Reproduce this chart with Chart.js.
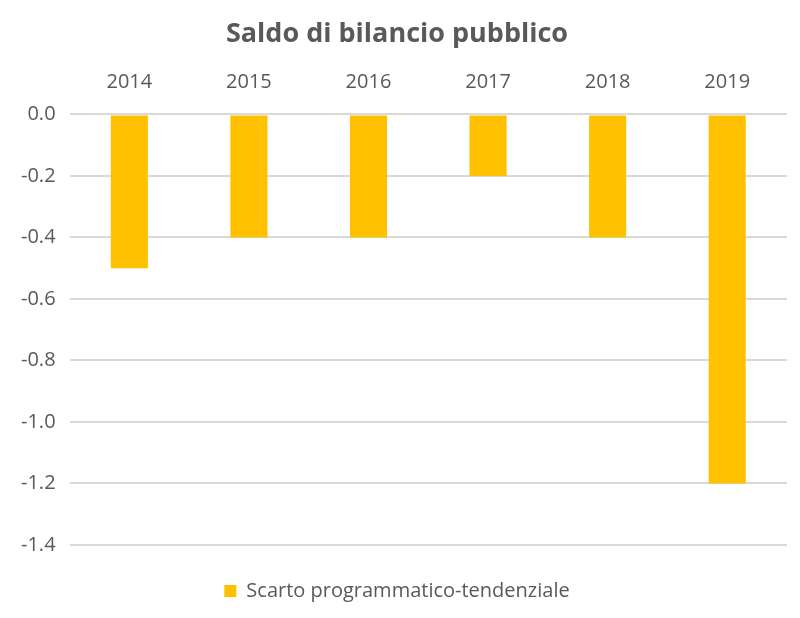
<!DOCTYPE html>
<html>
<head>
<meta charset="utf-8">
<script src="https://cdn.jsdelivr.net/npm/chart.js@4"></script>
<style>
  body { margin: 0; background: #fff; }
</style>
</head>
<body>
<canvas id="saldo" width="800" height="618"></canvas>
<script>
  const years = ["2014", "2015", "2016", "2017", "2018", "2019"];
  const scarto = [-0.5, -0.4, -0.4, -0.2, -0.4, -1.2];
  const seriesName = "Scarto programmatico-tendenziale";

  const grey = "#595959";
  const fontFamily = "'Open Sans', sans-serif";

  const ctx = document.getElementById("saldo");

  new Chart(ctx, {
    type: "bar",
    data: {
      labels: years,
      datasets: [{
        label: seriesName,
        data: scarto,
        backgroundColor: "#FFC000",
        borderWidth: 0,
        categoryPercentage: 1,
        barPercentage: 0.31
      }]
    },
    options: {
      responsive: false,
      animation: false,
      layout: {
        padding: { left: 7, right: 13, top: 6, bottom: 7 }
      },
      plugins: {
        title: {
          display: true,
          text: "Saldo di bilancio pubblico",
          color: grey,
          font: { family: fontFamily, size: 27, weight: "bold" },
          padding: { top: 12, bottom: 8 }
        },
        legend: {
          position: "bottom",
          labels: {
            color: grey,
            font: { family: fontFamily, size: 20 },
            boxWidth: 12,
            boxHeight: 12,
            padding: 26
          }
        },
        tooltip: { enabled: false }
      },
      scales: {
        x: {
          position: "top",
          grid: { display: false },
          border: { display: false },
          ticks: {
            color: grey,
            font: { family: fontFamily, size: 20 },
            padding: 12
          }
        },
        // empty bottom axis, only used as a spacer above the legend
        xAxis2: {
          type: "category",
          position: "bottom",
          grid: { display: false },
          border: { display: false },
          ticks: { display: false },
          afterFit: function(scale) {
            scale.height = 10;
          }
        },
        y: {
          min: -1.4,
          max: 0,
          grid: { color: "#d9d9d9", lineWidth: 2, drawTicks: false },
          border: { display: false },
          ticks: {
            stepSize: 0.2,
            color: grey,
            font: { family: fontFamily, size: 20 },
            padding: 14,
            callback: function(value) {
              return Number(value).toFixed(1);
            }
          }
        }
      }
    }
  });
</script>
</body>
</html>
